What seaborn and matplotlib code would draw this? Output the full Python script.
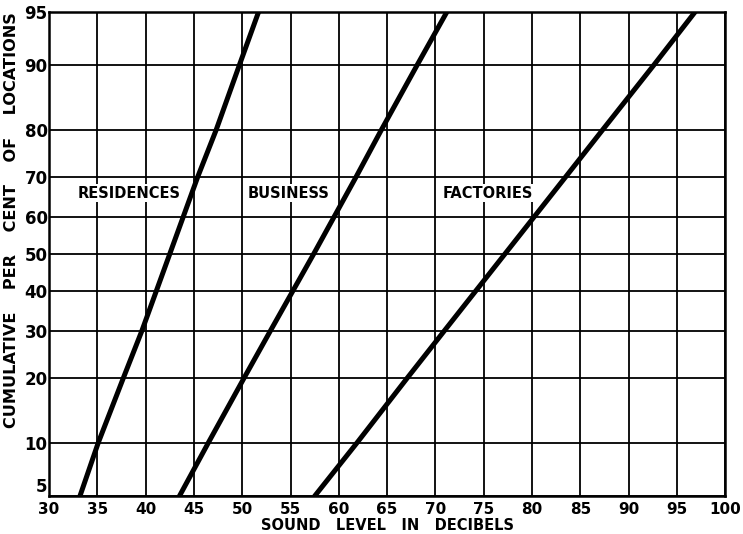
import matplotlib
matplotlib.use("Agg")
import matplotlib.pyplot as plt
import pandas as pd
import seaborn as sns
import numpy as np
from statistics import NormalDist

# Values (cumulative per cent vs sound level in dB)
percent = [5, 10, 20, 30, 50, 70, 80, 90, 95]
residences = [33.2, 35.1, 37.7, 39.6, 42.5, 45.4, 47.3, 49.7, 51.7]
business = [43.5, 46.5, 50.2, 52.9, 57.4, 61.8, 64.4, 68.1, 71.2]
factories = [57.5, 61.9, 67.1, 70.9, 77.2, 83.5, 87.3, 92.6, 96.9]

x_ticks = [30, 35, 40, 45, 50, 55, 60, 65, 70, 75, 80, 85, 90, 95, 100]
y_ticks = [5, 10, 20, 30, 40, 50, 60, 70, 80, 90, 95]

labels = ["RESIDENCES", "BUSINESS", "FACTORIES"]
label_x = [38.3, 54.8, 75.4]
label_y = 66

df = pd.concat([
    pd.DataFrame({"level": residences, "percent": percent, "kind": "RESIDENCES"}),
    pd.DataFrame({"level": business, "percent": percent, "kind": "BUSINESS"}),
    pd.DataFrame({"level": factories, "percent": percent, "kind": "FACTORIES"}),
])

nd = NormalDist()
_ppf = np.vectorize(lambda v: nd.inv_cdf(min(max(v, 1e-6), 100 - 1e-6) / 100.0), otypes=[float])
_cdf = np.vectorize(lambda v: nd.cdf(v) * 100.0, otypes=[float])


# normal probability scale
def fwd(p):
    return _ppf(np.asarray(p, dtype=float))


def inv(z):
    return _cdf(np.asarray(z, dtype=float))


sns.set_style("white")
plt.rcParams["font.family"] = ["DejaVu Sans"]
plt.rcParams["text.color"] = "black"
plt.rcParams["axes.labelcolor"] = "black"
plt.rcParams["xtick.color"] = "black"
plt.rcParams["ytick.color"] = "black"

fig = plt.figure(figsize=(7.43, 5.34), dpi=100)
ax = fig.add_axes([0.066, 0.071, 0.91, 0.907])
ax.set_yscale("function", functions=(fwd, inv))

sns.lineplot(data=df, x="level", y="percent", hue="kind", palette=["black"] * 3,
             estimator=None, sort=False, legend=False, linewidth=3.6, ax=ax, zorder=3)

ax.set_xlim(30, 100)
ax.set_ylim(5, 95)
ax.set_xticks(x_ticks)
ax.set_yticks(y_ticks)
ax.set_xticklabels([str(t) for t in x_ticks], fontsize=11, fontweight="bold")
ax.set_yticklabels([str(t) for t in y_ticks], fontsize=12, fontweight="bold")
ax.yaxis.set_minor_locator(matplotlib.ticker.NullLocator())
ax.tick_params(axis="y", length=0, pad=1)
ax.tick_params(axis="x", length=0, pad=4)
# the bottom "5" sits just above the x labels
for lab in ax.get_yticklabels():
    if lab.get_text() == "5":
        lab.set_va("bottom")
ax.grid(True, color="black", linewidth=1.3)
for s in ax.spines.values():
    s.set_color("black")
    s.set_linewidth(1.8)

ax.set_xlabel("SOUND   LEVEL   IN   DECIBELS", fontsize=10.5, fontweight="bold", labelpad=1)
ax.set_ylabel("CUMULATIVE    PER    CENT    OF    LOCATIONS", fontsize=11.6, fontweight="bold")
ax.yaxis.set_label_coords(-0.045, 0.57)

for t, xx in zip(labels, label_x):
    ax.text(xx, label_y, t, ha="center", va="center", fontsize=10.5, fontweight="bold", zorder=4,
            bbox=dict(facecolor="white", edgecolor="none", pad=1))

fig.savefig("out.png", dpi=100)
